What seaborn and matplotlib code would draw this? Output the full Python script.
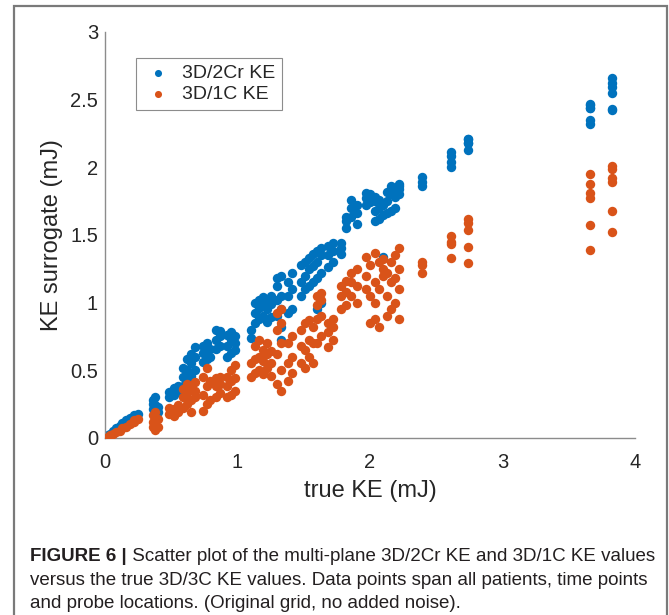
import numpy as np
import pandas as pd
import seaborn as sns
import matplotlib.pyplot as plt
from matplotlib.patches import Rectangle

# true 3D/3C KE (mJ) and the two surrogate estimates, one entry per point
true_ke = [0.02, 0.02, 0.04, 0.06, 0.08, 0.11, 0.13, 0.16, 0.19, 0.22, 0.22, 0.25,
           0.36, 0.36, 0.36, 0.38, 0.38, 0.38, 0.40, 0.40,
           0.48, 0.48, 0.52, 0.52, 0.55, 0.55,
           0.59, 0.59, 0.59, 0.62, 0.62, 0.62, 0.65, 0.65, 0.65, 0.68, 0.68, 0.68,
           0.74, 0.74, 0.74, 0.77, 0.77, 0.77, 0.79, 0.79,
           0.84, 0.84, 0.84, 0.87, 0.87, 0.87,
           0.92, 0.92, 0.92, 0.95, 0.95, 0.95, 0.98, 0.98, 0.98,
           1.10, 1.10, 1.13, 1.13, 1.13, 1.16, 1.16, 1.16, 1.19, 1.19, 1.19,
           1.22, 1.22, 1.22, 1.25, 1.25, 1.25,
           1.30, 1.30, 1.30, 1.30, 1.33, 1.33, 1.33, 1.33, 1.33,
           1.38, 1.38, 1.38, 1.41, 1.41, 1.41,
           1.48, 1.48, 1.48, 1.51, 1.51, 1.51, 1.54, 1.54, 1.54, 1.57, 1.57, 1.57,
           1.60, 1.60, 1.60, 1.60, 1.63, 1.63, 1.63, 1.63,
           1.68, 1.68, 1.68, 1.72, 1.72, 1.72, 1.78, 1.78, 1.78,
           1.82, 1.82, 1.82, 1.86, 1.86, 1.86, 1.90, 1.90, 1.90,
           1.97, 1.97, 1.97, 2.00, 2.00, 2.00, 2.04, 2.04, 2.04, 2.04,
           2.07, 2.07, 2.07, 2.10, 2.10, 2.10,
           2.13, 2.13, 2.13, 2.16, 2.16, 2.16, 2.19, 2.19, 2.19, 2.22, 2.22, 2.22, 2.22,
           2.39, 2.39, 2.39, 2.61, 2.61, 2.61, 2.61, 2.74, 2.74, 2.74, 2.74, 2.74,
           3.66, 3.66, 3.66, 3.66, 3.66, 3.66, 3.83, 3.83, 3.83, 3.83, 3.83, 3.83]

ke_2cr = [0.02, 0.01, 0.03, 0.05, 0.07, 0.09, 0.11, 0.13, 0.15, 0.17, 0.15, 0.18,
          0.21, 0.25, 0.28, 0.20, 0.24, 0.30, 0.19, 0.23,
          0.30, 0.34, 0.32, 0.37, 0.35, 0.38,
          0.38, 0.45, 0.52, 0.42, 0.50, 0.58, 0.46, 0.55, 0.62, 0.50, 0.60, 0.67,
          0.56, 0.63, 0.68, 0.58, 0.65, 0.70, 0.60, 0.66,
          0.66, 0.72, 0.80, 0.68, 0.75, 0.79,
          0.60, 0.68, 0.76, 0.63, 0.72, 0.78, 0.65, 0.70, 0.75,
          0.74, 0.80, 0.85, 0.92, 1.00, 0.88, 0.96, 1.02, 0.90, 0.98, 1.04,
          0.86, 0.95, 1.02, 0.89, 0.99, 1.05,
          0.90, 1.02, 1.12, 1.18, 0.72, 0.82, 0.95, 1.05, 1.20,
          0.92, 1.05, 1.15, 0.95, 1.10, 1.22,
          1.05, 1.15, 1.28, 1.10, 1.20, 1.30, 1.12, 1.25, 1.33, 1.15, 1.27, 1.36,
          0.95, 1.18, 1.30, 1.38, 1.00, 1.22, 1.35, 1.40,
          1.26, 1.35, 1.42, 1.30, 1.38, 1.44, 1.36, 1.40, 1.44,
          1.55, 1.60, 1.63, 1.63, 1.70, 1.76, 1.58, 1.66, 1.72,
          1.72, 1.77, 1.81, 1.74, 1.78, 1.80, 1.60, 1.68, 1.75, 1.78,
          1.62, 1.70, 1.76, 1.65, 1.72, 1.34,
          1.66, 1.75, 1.82, 1.68, 1.80, 1.86, 1.70, 1.78, 1.84, 1.80, 1.84, 1.88, 1.86,
          1.86, 1.89, 1.93, 2.00, 2.04, 2.08, 2.11, 2.13, 2.18, 2.21, 2.18, 2.21,
          2.32, 2.35, 2.44, 2.46, 2.47, 2.44, 2.42, 2.43, 2.55, 2.59, 2.62, 2.66]

ke_1c = [0.01, 0.00, 0.02, 0.03, 0.04, 0.05, 0.07, 0.08, 0.10, 0.12, 0.13, 0.14,
         0.08, 0.12, 0.17, 0.06, 0.10, 0.19, 0.08, 0.14,
         0.18, 0.22, 0.16, 0.21, 0.19, 0.24,
         0.22, 0.30, 0.36, 0.25, 0.33, 0.40, 0.19, 0.28, 0.38, 0.30, 0.41, 0.35,
         0.20, 0.32, 0.45, 0.25, 0.38, 0.52, 0.28, 0.42,
         0.30, 0.38, 0.44, 0.33, 0.40, 0.45,
         0.30, 0.38, 0.45, 0.32, 0.42, 0.50, 0.35, 0.44, 0.54,
         0.45, 0.55, 0.48, 0.58, 0.68, 0.50, 0.60, 0.72, 0.47, 0.57, 0.65,
         0.52, 0.62, 0.70, 0.46, 0.55, 0.64,
         0.40, 0.62, 0.80, 0.92, 0.35, 0.50, 0.70, 0.85, 0.95,
         0.42, 0.55, 0.70, 0.48, 0.60, 0.75,
         0.55, 0.68, 0.80, 0.52, 0.65, 0.85, 0.60, 0.72, 0.87, 0.55, 0.70, 0.82,
         0.70, 0.88, 0.98, 1.05, 0.75, 0.90, 1.02, 1.07,
         0.67, 0.78, 0.85, 0.72, 0.82, 0.88, 0.95, 1.05, 1.12,
         0.98, 1.08, 1.16, 1.05, 1.15, 1.22, 1.00, 1.12, 1.25,
         1.10, 1.20, 1.34, 0.85, 1.05, 1.28, 0.88, 1.00, 1.15, 1.37,
         0.82, 1.10, 1.30, 1.20, 1.25, 1.32,
         0.90, 1.05, 1.22, 0.95, 1.15, 1.30, 1.00, 1.18, 1.35, 0.88, 1.10, 1.25, 1.40,
         1.22, 1.28, 1.30, 1.33, 1.43, 1.45, 1.49, 1.29, 1.41, 1.54, 1.59, 1.62,
         1.39, 1.57, 1.77, 1.81, 1.88, 1.95, 1.52, 1.68, 1.89, 1.92, 1.99, 2.01]

x_ticks = [0, 1, 2, 3, 4]
y_ticks = [0, 0.5, 1, 1.5, 2, 2.5, 3]
y_tick_labels = ["0", "0.5", "1", "1.5", "2", "2.5", "3"]
series = ["3D/2Cr KE", "3D/1C KE"]
colors = ["#0072BD", "#D95319"]

caption_bold = "FIGURE 6 |"
caption_lines = [" Scatter plot of the multi-plane 3D/2Cr KE and 3D/1C KE values",
                 "versus the true 3D/3C KE values. Data points span all patients, time points",
                 "and probe locations. (Original grid, no added noise)."]

df = pd.DataFrame({"true": true_ke, "2cr": ke_2cr, "1c": ke_1c})

sns.set_style("white")
plt.rcParams['font.family'] = ['Liberation Sans', 'DejaVu Sans']

fig = plt.figure(figsize=(6.69, 6.15), dpi=100)
ax = fig.add_axes([0.157, 0.288, 0.792, 0.660])

sns.scatterplot(data=df, x="true", y="2cr", color=colors[0], s=46, linewidth=0,
                label=series[0], ax=ax, zorder=2)
sns.scatterplot(data=df, x="true", y="1c", color=colors[1], s=46, linewidth=0,
                label=series[1], ax=ax, zorder=3)

ax.set_xlim(0, 4)
ax.set_ylim(0, 3)
ax.set_xticks(x_ticks)
ax.set_yticks(y_ticks)
ax.set_xticklabels([str(t) for t in x_ticks])
ax.set_yticklabels(y_tick_labels)
ax.tick_params(direction="in", length=4, width=0.8, color="#8c8c8c",
               labelsize=14.5, labelcolor="#262626")
ax.tick_params(axis="x", pad=11)
ax.tick_params(axis="y", pad=5)
sns.despine(ax=ax)
for side in ["left", "bottom"]:
    ax.spines[side].set_color("#8c8c8c")
    ax.spines[side].set_linewidth(1.0)

ax.set_xlabel("true KE (mJ)", fontsize=17, color="#262626", labelpad=6)
ax.set_ylabel("KE surrogate (mJ)", fontsize=17, color="#262626", labelpad=5)

leg = ax.legend(loc="upper left", bbox_to_anchor=(0.04, 0.96), fontsize=14,
                frameon=True, fancybox=False, framealpha=1, edgecolor="#8c8c8c",
                markerscale=0.75, handletextpad=0.4, borderpad=0.35,
                labelspacing=0.15, handlelength=1.6)
leg.get_frame().set_linewidth(0.8)
for t in leg.get_texts():
    t.set_color("#262626")

# outer frame of the figure panel
fig.patches.append(Rectangle((14 / 669, -0.02), 653 / 669, 1 - 6 / 615 + 0.02,
                             transform=fig.transFigure, fill=False,
                             edgecolor="#7a7a7a", linewidth=1.6, clip_on=False))

cap_font = ['Liberation Sans', 'DejaVu Sans']
bold = fig.text(30 / 669, 1 - 561 / 615, caption_bold, fontsize=13.5,
                fontweight="bold", family=cap_font, color="#231f20", va="baseline")
ax.annotate(caption_lines[0], xy=(1, 0), xycoords=bold, fontsize=13.5,
            family=cap_font, color="#231f20", va="bottom", ha="left")
fig.text(30 / 669, 1 - 585 / 615, caption_lines[1], fontsize=13.5,
         family=cap_font, color="#231f20", va="baseline")
fig.text(30 / 669, 1 - 608 / 615, caption_lines[2], fontsize=13.5,
         family=cap_font, color="#231f20", va="baseline")

fig.savefig("out.png", dpi=100)
